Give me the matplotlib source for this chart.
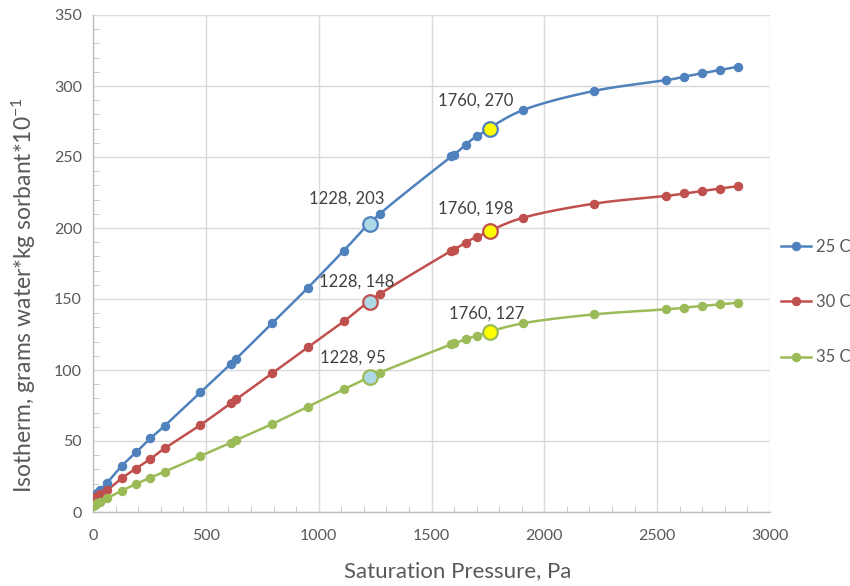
import numpy as np
import matplotlib
matplotlib.use("Agg")
import matplotlib.pyplot as plt
from matplotlib.ticker import MultipleLocator

plt.rcParams['font.family'] = ['Lato', 'DejaVu Sans']
plt.rcParams['mathtext.fontset'] = 'custom'
plt.rcParams['mathtext.rm'] = 'Lato'
plt.rcParams['mathtext.it'] = 'Lato:italic'
plt.rcParams['mathtext.bf'] = 'Lato:bold'

# ---- data ----
x25 = [0, 9, 19, 32, 63.5, 127, 190.5, 254, 317.5, 476, 610, 635, 794, 953, 1111,
       1270, 1588, 1600, 1651, 1702, 1905, 2222, 2540, 2619, 2698, 2778, 2857]
y25 = [8.5, 10.8, 13.4, 15.5, 20.7, 32.4, 42, 51.8, 60.7, 84.3, 104, 108, 132.9, 158, 184,
       209.8, 250.4, 251.6, 258.5, 264.6, 283, 296.6, 304.1, 306.6, 308.9, 311.2, 313.6]

x30 = [0, 9, 19, 32, 63.5, 127, 190.5, 254, 317.5, 476, 610, 635, 794, 953, 1111,
       1270, 1588, 1600, 1651, 1702, 1905, 2222, 2540, 2619, 2698, 2778, 2857]
y30 = [7.8, 9.6, 11.2, 12.7, 15.5, 23.7, 30.6, 37.3, 44.8, 61.3, 76.5, 79.4, 97.7, 116.2, 134.2,
       153.4, 184, 184.8, 189.6, 193.8, 207.2, 217.2, 222.6, 224.3, 226, 227.8, 229.5]

x35 = [0, 9, 19, 32, 63.5, 127, 190.5, 254, 317.5, 476, 610, 635, 794, 953, 1111,
       1270, 1588, 1600, 1651, 1702, 1905, 2222, 2540, 2619, 2698, 2778, 2857]
y35 = [4.0, 4.9, 6.2, 7.3, 9.8, 15.0, 19.7, 24.2, 28.4, 39.4, 48.8, 50.7, 62.0, 74.2, 86.3,
       98.1, 118.1, 118.7, 121.6, 124.2, 132.9, 139.2, 142.7, 143.9, 145.1, 146.2, 147.4]

labels = ["25 C", "30 C", "35 C"]
colors = ["#4F81BD", "#C0504D", "#9BBB59"]

hl_x = [1228, 1760]
hl_y25 = [203, 270]
hl_y30 = [148, 198]
hl_y35 = [95, 127]
hl_fill = ["#ADD8E6", "#FFFF00"]

# annotation text positions (data coords)
ann_text = ["1228, 203", "1760, 270", "1228, 148", "1760, 198", "1228, 95", "1760, 127"]
ann_tx = [1125, 1697, 1170, 1697, 1152, 1746]
ann_ty = [221, 289.5, 162.5, 213.5, 108.5, 140]


def catmull_rom(x, y, n=20):
    x = np.asarray(x, float)
    y = np.asarray(y, float)
    px = np.concatenate([[2 * x[0] - x[1]], x, [2 * x[-1] - x[-2]]])
    py = np.concatenate([[2 * y[0] - y[1]], y, [2 * y[-1] - y[-2]]])
    ox, oy = [], []
    t = np.linspace(0, 1, n, endpoint=False)
    for i in range(1, len(px) - 2):
        p0, p1, p2, p3 = [np.array([px[j], py[j]]) for j in (i - 1, i, i + 1, i + 2)]
        m1 = (p2 - p0) / 6.0
        m2 = (p3 - p1) / 6.0
        b0, b1, b2, b3 = p1, p1 + m1, p2 - m2, p2
        pts = ((1 - t) ** 3)[:, None] * b0 + (3 * (1 - t) ** 2 * t)[:, None] * b1 + \
              (3 * (1 - t) * t ** 2)[:, None] * b2 + (t ** 3)[:, None] * b3
        ox.extend(pts[:, 0]); oy.extend(pts[:, 1])
    ox.append(x[-1]); oy.append(y[-1])
    return np.array(ox), np.array(oy)


fig = plt.figure(figsize=(8.5, 5.86), dpi=100)
ax = fig.add_axes([93 / 850, 74 / 586, 677 / 850, 497 / 586])

series = [(x25, y25, hl_y25), (x30, y30, hl_y30), (x35, y35, hl_y35)]
handles = []
for (xs, ys, hy), c, lab in zip(series, colors, labels):
    sx, sy = catmull_rom(xs, ys)
    ax.plot(sx, sy, color=c, lw=1.8, zorder=3)
    ax.plot(xs, ys, ls='none', marker='o', ms=5.8, color=c, zorder=4)
    h, = ax.plot([], [], color=c, lw=1.8, marker='o', ms=5.8, label=lab)
    handles.append(h)
    for xx, yy, fc in zip(hl_x, hy, hl_fill):
        ax.plot([xx], [yy], ls='none', marker='o', ms=10.5, mfc=fc, mec=c, mew=1.6, zorder=5)

for t, tx, ty in zip(ann_text, ann_tx, ann_ty):
    ax.text(tx, ty, t, ha='center', va='center', fontsize=12, color='#404040', zorder=6)

ax.set_xlim(0, 3000)
ax.set_ylim(0, 350)
ax.xaxis.set_major_locator(MultipleLocator(500))
ax.xaxis.set_minor_locator(MultipleLocator(100))
ax.yaxis.set_major_locator(MultipleLocator(50))
ax.yaxis.set_minor_locator(MultipleLocator(10))
ax.grid(True, which='major', color='#D9D9D9', lw=1.0, zorder=0)
ax.set_axisbelow(True)
for s in ['top', 'right']:
    ax.spines[s].set_visible(False)
for s in ['left', 'bottom']:
    ax.spines[s].set_color('#BFBFBF')
    ax.spines[s].set_linewidth(1.0)
ax.tick_params(which='major', length=0, labelsize=11.5, colors='#595959')
ax.tick_params(axis='x', which='major', pad=12)
ax.tick_params(axis='y', which='major', pad=8)
ax.tick_params(which='minor', direction='in', length=4, color='#BFBFBF')

ax.set_xlabel("Saturation Pressure, Pa", fontsize=16, color='#595959')
ax.xaxis.set_label_coords((458 - 93) / 677, -(561 - 512) / 497)
ax.set_ylabel("Isotherm, grams water*kg sorbant*10$^{\\mathregular{-1}}$", fontsize=16.5, color='#595959')
ax.yaxis.set_label_coords(-(93 - 38) / 677, (512 - 295) / 497)

fig.legend(handles=handles, loc='upper left', bbox_to_anchor=(766 / 850, 1 - 224 / 586),
           frameon=False, fontsize=12, labelspacing=2.35, handlelength=1.8, handletextpad=0.3,
           labelcolor='#595959')

fig.savefig("out.png", dpi=100)
